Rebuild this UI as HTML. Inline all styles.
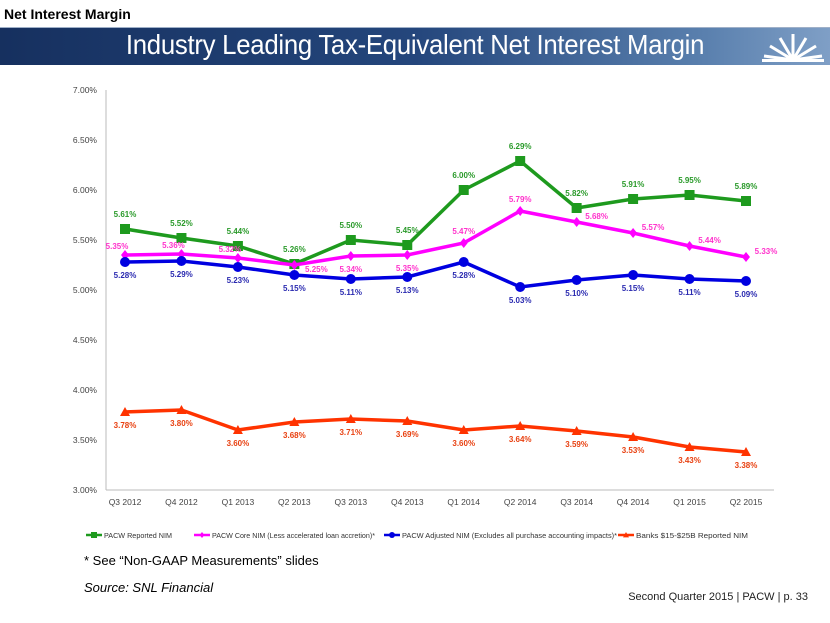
<!DOCTYPE html>
<html><head><meta charset="utf-8">
<style>
body{margin:0;width:830px;height:623px;background:#fff;font-family:"Liberation Sans",sans-serif;overflow:hidden;position:relative}
.hdr{position:absolute;left:4px;top:6px;font-size:14px;font-weight:bold;color:#000}
.band{position:absolute;left:0;top:27px;width:830px;height:37px;background:linear-gradient(90deg,#16305f 0%,#24467c 50%,#5a80ae 85%,#7f9fc6 100%);border-top:1px solid #9fb0c8}
.title{position:absolute;left:0;width:830px;top:29px;text-align:center;color:#fff;font-size:28px;letter-spacing:-0.3px;transform:scaleX(0.92);transform-origin:415px 0}
.note{position:absolute;left:84px;font-size:13px;color:#000}
.foot{position:absolute;right:22px;top:591px;font-size:11px;color:#222}
</style></head><body>
<div class="hdr">Net Interest Margin</div>
<div class="band"></div>
<div class="title">Industry Leading Tax-Equivalent Net Interest Margin</div>
<svg style="position:absolute;left:758px;top:28px" width="70" height="36">
<g stroke="#fff" stroke-width="3" fill="none">
<line x1="35" y1="32" x2="35" y2="6"/><line x1="35" y1="32" x2="22" y2="10"/><line x1="35" y1="32" x2="48" y2="10"/>
<line x1="35" y1="32" x2="12" y2="18"/><line x1="35" y1="32" x2="58" y2="18"/><line x1="35" y1="32" x2="6" y2="28"/><line x1="35" y1="32" x2="64" y2="28"/></g>
<rect x="4" y="31" width="62" height="3" fill="#fff"/></svg>
<svg id="chart" style="position:absolute;left:0;top:0" width="830" height="623"></svg>
<div class="note" style="top:553px">* See “Non-GAAP Measurements” slides</div>
<div class="note" style="top:580px;font-style:italic">Source: SNL Financial</div>
<div class="foot">Second Quarter 2015 | PACW | p. 33</div>
<script>
const categories=["Q3 2012","Q4 2012","Q1 2013","Q2 2013","Q3 2013","Q4 2013","Q1 2014","Q2 2014","Q3 2014","Q4 2014","Q1 2015","Q2 2015"];
const reported=[5.61,5.52,5.44,5.26,5.50,5.45,6.00,6.29,5.82,5.91,5.95,5.89];
const core=[5.35,5.36,5.32,5.25,5.34,5.35,5.47,5.79,5.68,5.57,5.44,5.33];
const adjusted=[5.28,5.29,5.23,5.15,5.11,5.13,5.28,5.03,5.10,5.15,5.11,5.09];
const banks=[3.78,3.80,3.60,3.68,3.71,3.69,3.60,3.64,3.59,3.53,3.43,3.38];
const yTicks=[3.0,3.5,4.0,4.5,5.0,5.5,6.0,6.5,7.0];
const NS="http://www.w3.org/2000/svg";
const svg=document.getElementById('chart');
const x=i=>125+i*(746-125)/11;
const y=v=>490-(v-3)*100;
function mk(t,a,p){const e=document.createElementNS(NS,t);for(const k in a)e.setAttribute(k,a[k]);(p||svg).appendChild(e);return e;}
let ax=mk('line',{x1:106,y1:90,x2:106,y2:490,stroke:'#bbb'});


let xa=mk('line',{x1:106,y1:490,x2:774,y2:490,stroke:'#bbb'});


yTicks.forEach(v=>{const t=mk('text',{x:97,y:y(v)+3,'text-anchor':'end','font-size':8.5,fill:'#444'});t.textContent=v.toFixed(2)+'%';

});
categories.forEach((c,i)=>{const t=mk('text',{x:x(i),y:505,'text-anchor':'middle','font-size':8.5,fill:'#444'});t.textContent=c;

});
function marker(type,cx,cy,col,g){
 if(type==='sq')return mk('rect',{x:cx-5,y:cy-5,width:10,height:10,fill:col},g);
 if(type==='ci')return mk('circle',{cx:cx,cy:cy,r:5,fill:col},g);
 if(type==='di')return mk('polygon',{points:`${cx},${cy-5} ${cx+4},${cy} ${cx},${cy+5} ${cx-4},${cy}`,fill:col},g);
 return mk('polygon',{points:`${cx},${cy-5} ${cx+5},${cy+4} ${cx-5},${cy+4}`,fill:col},g);
}
const series=[
 {name:'reported',data:reported,col:'#1e9a1e',lab:'#2a9a2a',m:'sq',off:i=>[0,-12]},
 {name:'core',data:core,col:'#ff00ff',lab:'#ff33cc',m:'di',off:i=>i<3?[-8,-6]:i===3?[22,7]:i<6?[0,16]:i<8?[0,-9]:[20,-3]},
 {name:'adjusted',data:adjusted,col:'#0000e0',lab:'#2a2ab0',m:'ci',off:i=>[0,16]},
 {name:'banks',data:banks,col:'#ff3300',lab:'#e84010',m:'tr',off:i=>[0,16]}];
series.forEach(s=>{
 const g=mk('g',{});
 
 
 mk('polyline',{points:s.data.map((v,i)=>x(i)+','+y(v)).join(' '),fill:'none',stroke:s.col,'stroke-width':3.5},g);
 s.data.forEach((v,i)=>{const m=marker(s.m,x(i),y(v),s.col,g);
  
  
  const o=s.off(i);const t=mk('text',{x:x(i)+o[0],y:y(v)+o[1],'text-anchor':'middle','font-size':8,'font-weight':'bold',fill:s.lab},g);
  t.textContent=v.toFixed(2)+'%';
  
  });
});
const legend=[['PACW Reported NIM','#1e9a1e','sq',86,68],['PACW Core NIM (Less accelerated loan accretion)*','#ff00ff','di',194,163],['PACW Adjusted NIM (Excludes all purchase accounting impacts)*','#0000e0','ci',384,215],['Banks $15-$25B Reported NIM','#ff3300','tr',618,112]];
legend.forEach(l=>{const g=mk('g',{});
 
 
 mk('line',{x1:l[3],y1:535,x2:l[3]+16,y2:535,stroke:l[1],'stroke-width':2.5},g);
 const m=marker(l[2],l[3]+8,535,l[1],g);m.setAttribute('transform',`translate(${l[3]+8},535) scale(0.6) translate(${-l[3]-8},-535)`);
 const t=mk('text',{x:l[3]+18,y:538,'font-size':7.5,fill:'#333',textLength:l[4],lengthAdjust:'spacingAndGlyphs'},g);t.textContent=l[0];});
</script>
</body></html>
